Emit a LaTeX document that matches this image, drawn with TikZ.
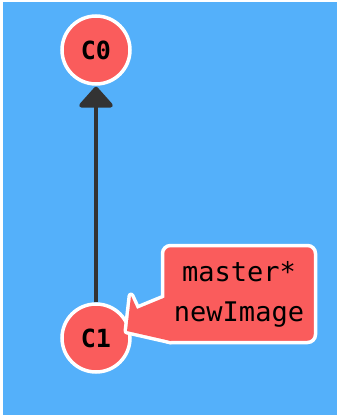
\documentclass[tikz,border=0pt]{standalone}
\usepackage{fontspec}
\setmonofont{DejaVu Sans Mono}
\usetikzlibrary{arrows.meta,calc}
\definecolor{bgblue}{RGB}{84,176,250}
\definecolor{commitred}{RGB}{250,92,92}
\definecolor{edgegray}{RGB}{51,51,51}
\begin{document}
\begin{tikzpicture}[x=1pt,y=-1pt,
  commit/.style={circle,fill=commitred,draw=white,line width=3.5pt,
    minimum size=68pt,inner sep=0pt,
    font=\ttfamily\bfseries\fontsize{25}{30}\selectfont},
  branch/.style={rectangle,rounded corners=8pt,fill=commitred,draw=white,
    line width=3.5pt,minimum width=153pt,minimum height=97pt,inner sep=0pt,
    align=center,font=\ttfamily\fontsize{27}{40}\selectfont},
  parent/.style={draw=edgegray,line width=4.5pt,
    -{Triangle[width=38pt,length=22pt,round]},shorten >=1pt},
  pointeroutline/.style={draw=white,line width=7pt,line join=round},
  pointerfill/.style={fill=commitred}]
\useasboundingbox (0,0) rectangle (337,417);
\fill[white] (0,0) rectangle (337,417);
\fill[bgblue] (3,2) rectangle (337,415);

% commits
\node[commit] (C0) at (96,50) {C0};
\node[commit] (C1) at (96,338) {C1};

% parent link
\draw[parent] (C1) -- (C0);

% branch label and its pointer
\coordinate (lblpos) at (239,294);
\coordinate (lblwest) at ($(lblpos)+(-78,0)$);
\coordinate (pa) at ($(lblwest)+(10,1)$);
\coordinate (pb) at ($(lblwest)+(-24,15)$);
\coordinate (pc) at ($(lblwest)+(-30,2)$);
\coordinate (pd) at ($(C1)+(31,-7)$);
\coordinate (pe) at ($(lblwest)+(10,47)$);
\path[pointeroutline] (pa) -- (pb) -- (pc) -- (pd) -- (pe) -- cycle;
\node[branch] (lbl) at (lblpos) {master*\\newImage};
\path[pointerfill] (pa) -- (pb) -- (pc) -- (pd) -- (pe) -- cycle;
\end{tikzpicture}
\end{document}
